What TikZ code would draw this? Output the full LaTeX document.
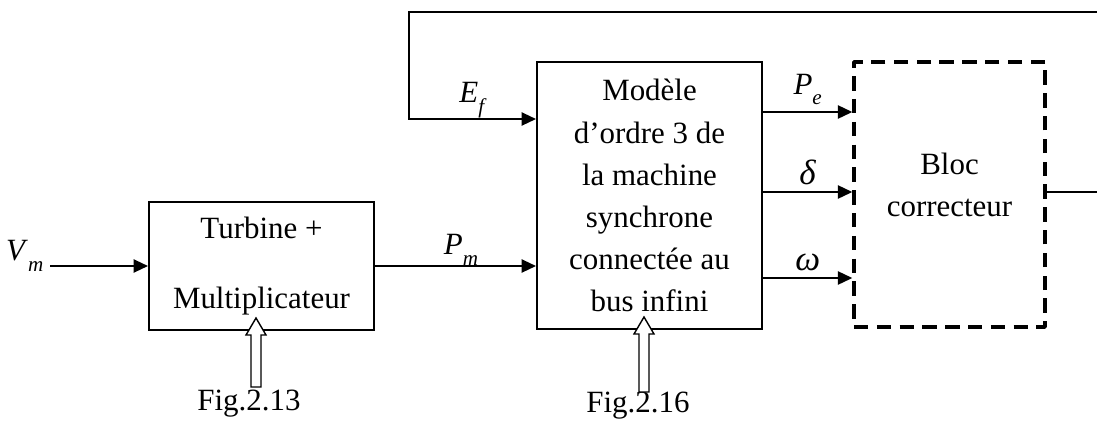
\documentclass[tikz,border=0pt]{standalone}
\usepackage{fontspec}
\setmainfont{Liberation Serif}
\usetikzlibrary{arrows.meta,positioning}

\newcommand{\sig}[2]{\textit{#1}\raisebox{-0.26cm}{\fontsize{15}{15}\selectfont\textit{#2}}}
\newcommand{\grk}[1]{{\fontsize{25}{25}\selectfont\textit{#1}}}

\begin{document}
\begin{tikzpicture}[x=0.025cm, y=-0.025cm,
  every node/.style={font=\fontsize{22}{29.9}\selectfont},
  blk/.style={draw, line width=1.4pt, align=center, inner sep=0pt},
  ctrl/.style={draw, line width=2.4pt, dash pattern=on 0.36cm off 0.21cm, line join=round, align=center},
  wire/.style={line width=1.3pt},
  sig/.style={wire, -{Triangle[length=0.36cm, width=0.33cm]}},
  lbl/.style={inner sep=1pt},
  hollow/.style={draw, line width=1pt, fill=white}]
  \useasboundingbox (0,0) rectangle (1097,423);

  % blocks
  \node[blk, minimum width=5.625cm, minimum height=3.2cm] (turb) at (261.5,266) {Turbine +\\[0.7cm]Multiplicateur};
  \node[blk, minimum width=5.625cm, minimum height=6.675cm] (model) at (649.5,195.5)
    {Modèle\\d’ordre 3 de\\la machine\\synchrone\\connectée au\\bus infini};
  \node[ctrl, minimum width=4.775cm, minimum height=6.625cm] (bloc) at (949.5,194.5)
    {Bloc\\correcteur\rule[-0.5cm]{0pt}{0pt}};

  % signal names
  \node[lbl, anchor=east] (vm) at (45,256) {\sig{V}{m}};
  \node[lbl] (pm) at (461,250) {\sig{P}{m}};
  \node[lbl] (ef) at (473,100) {\sig{E}{f}};
  \node (f13) at (249,404) {Fig.2.13};
  \node (f16) at (638,406) {Fig.2.16};

  % feedback loop ends
  \coordinate (fbr) at (1097,12);
  \coordinate (fbl) at (409,12);
  \coordinate (efl) at (409,119);
  \coordinate (out) at (1097,192);

  \draw[sig] (vm.east |- turb.west) ++(5,0) -- (turb.west);
  \draw[sig] (turb.east) -- (model.west |- turb.east);
  \draw[sig] (fbr) -- (fbl) -- (efl) -- (efl -| model.west);
  \draw[wire] (bloc.east |- out) -- (out);

  \foreach \y/\n/\t in {112/pe/{\sig{P}{e}}, 192/de/{\grk{δ}}, 278/om/{\grk{ω}}}
    \draw[sig] (model.east |- 0,\y) -- node[lbl, above=0.12cm] (\n) {\t} (bloc.west |- 0,\y);

  % hollow arrows from the figures
  \coordinate (t13) at (256,318);
  \coordinate (t16) at (644,317);
  \foreach \t/\l in {t13/52, t16/58}
    \draw[hollow] (\t) -- ++(10,17) -- ++(-5,0) -- ++(0,\l) -- ++(-10,0) -- ++(0,-\l) -- ++(-5,0) -- cycle;
\end{tikzpicture}
\end{document}
